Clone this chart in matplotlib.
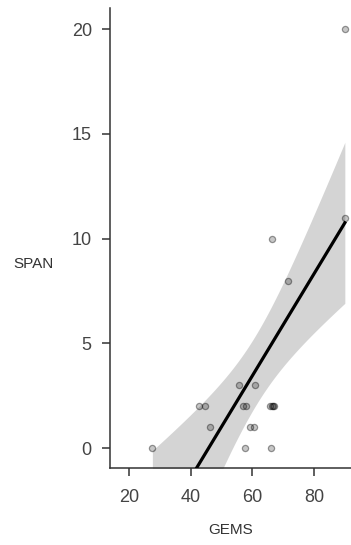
import numpy as np
import matplotlib
matplotlib.use("Agg")
import matplotlib.pyplot as plt

plt.rcParams['font.family'] = ['Liberation Sans', 'DejaVu Sans']

# GEMS vs SPAN
gems = [27.5, 42.7, 44.7, 46.2, 55.7, 60.9, 56.8, 57.9, 57.6, 59.2,
        60.6, 65.8, 66.2, 66.6, 66.9, 66.0, 90.0, 90.0, 66.4, 71.5]
span = [0, 2, 2, 1, 3, 3, 2, 2, 0, 1,
        1, 2, 2, 2, 2, 0, 20, 11, 10, 8]
x_ticks = [20, 40, 60, 80]
y_ticks = [0, 5, 10, 15, 20]

x = np.array(gems)
y = np.array(span)
n = len(x)

# linear fit with 95% confidence band (like geom_smooth(method="lm"))
slope, intercept = np.polyfit(x, y, 1)
xs = np.linspace(x.min(), x.max(), 200)
ys = intercept + slope * xs
resid = y - (intercept + slope * x)
s = np.sqrt(np.sum(resid ** 2) / (n - 2))
t_crit = 2.101  # t(0.975, df=18)
se = s * np.sqrt(1 / n + (xs - x.mean()) ** 2 / np.sum((x - x.mean()) ** 2))

fig = plt.figure(figsize=(3.51, 5.45), dpi=100)
ax = fig.add_axes([0.313, 0.141, 0.687, 0.844])

ax.fill_between(xs, ys - t_crit * se, ys + t_crit * se, color='#d4d4d4', lw=0, zorder=1)
ax.scatter(x, y, s=20, facecolor=(0, 0, 0, 0.22), edgecolor=(0, 0, 0, 0.38),
           linewidth=0.9, zorder=2)
ax.plot(xs, ys, color='black', lw=2.3, zorder=3)

ax.set_xlim(13.7, 92)
ax.set_ylim(-0.95, 21.0)
ax.set_xticks(x_ticks)
ax.set_yticks(y_ticks)

for side in ['top', 'right']:
    ax.spines[side].set_visible(False)
for side in ['left', 'bottom']:
    ax.spines[side].set_color('#333333')
    ax.spines[side].set_linewidth(1.1)

ax.tick_params(axis='both', length=6, width=1.1, color='#333333',
               labelsize=13, labelcolor='#444444')
ax.tick_params(axis='x', pad=9)
ax.tick_params(axis='y', pad=7)

ax.set_xlabel('GEMS', fontsize=11, color='#333333', labelpad=12)
ax.set_ylabel('SPAN', fontsize=11, color='#333333', rotation=0,
              ha='center', va='center')
ax.yaxis.set_label_coords(-0.315, 0.443)

fig.savefig('out.png', dpi=100)
